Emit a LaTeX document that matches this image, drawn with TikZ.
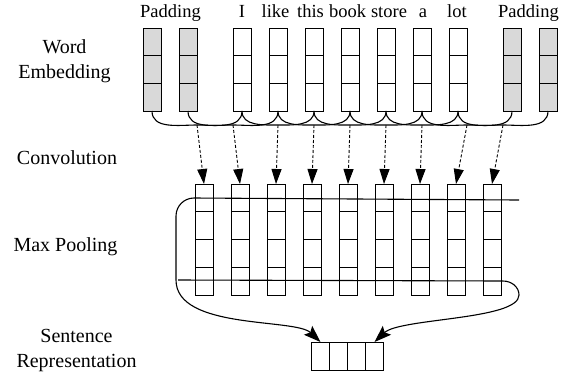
\documentclass[tikz,border=0pt]{standalone}
\usepackage{fontspec}
\setmainfont{Liberation Serif}
\usetikzlibrary{arrows.meta}
\begin{document}
\begin{tikzpicture}[x=1pt,y=-1pt,line width=1pt,
  wbox/.style={draw,minimum width=18pt,minimum height=83pt,inner sep=0pt,outer sep=0pt},
  padbox/.style={wbox,fill=black!15},
  cbox/.style={draw,minimum width=18pt,minimum height=111pt,inner sep=0pt,outer sep=0pt},
  sbox/.style={draw,minimum width=18pt,minimum height=28pt,inner sep=0pt,outer sep=0pt},
  toplab/.style={anchor=base,inner sep=0pt,font=\fontsize{18.5}{22}\selectfont},
  sidelab/.style={align=center,inner sep=0pt,font=\fontsize{20}{24.5}\selectfont},
  windowarc/.style={line width=1.1pt},
  dasharrow/.style={dash pattern=on 3pt off 2pt,line width=0.9pt,-{Triangle[length=15pt,width=10pt]}},
  poolarrow/.style={line width=1.1pt,-{Stealth[length=17pt,width=12pt,inset=3pt]}}]
\useasboundingbox (0,0) rectangle (569,376);

% word embedding columns
\foreach \i/\x/\s in {1/152/padbox,2/188/padbox,3/242/wbox,4/278/wbox,5/314/wbox,6/350/wbox,7/386/wbox,8/422/wbox,9/458/wbox,10/512/padbox,11/548/padbox}{
  \node[\s] (w\i) at (\x,69.5) {};
  \draw (\x-9,55.67) -- (\x+9,55.67) (\x-9,83.33) -- (\x+9,83.33);
}

% top labels
\node[toplab] (tpad1) at (170.5,17.3) {Padding};
\node[toplab] (tI) at (242,17.3) {I};
\node[toplab] (tlike) at (275.5,17.3) {like};
\node[toplab] (tthis) at (310.5,17.3) {this};
\node[toplab] (tbook) at (347.5,17.3) {book};
\node[toplab] (tstore) at (389,17.3) {store};
\node[toplab] (ta) at (423,17.3) {a};
\node[toplab] (tlot) at (457,17.3) {lot};
\node[toplab] (tpad2) at (528.5,17.3) {Padding};

% side labels
\node[sidelab] (lwe) at (64.5,61) {Word\\Embedding};
\node[sidelab] (lconv) at (67,158) {Convolution};
\node[sidelab] (lpool) at (65.5,247) {Max Pooling};
\node[sidelab] (lsent) at (76.5,350.5) {Sentence\\Representation};

% convolution / pooling columns
\foreach \i/\x in {1/204,2/240,3/276,4/312,5/348,6/384,7/420,8/456,9/492}{
  \node[cbox] (c\i) at (\x,239.5) {};
  \draw (\x-9,211.75) -- (\x+9,211.75) (\x-9,239.5) -- (\x+9,239.5) (\x-9,267.25) -- (\x+9,267.25);
}

% convolution windows
\foreach \i/\j/\m in {1/3/197,2/4/233,3/5/278,4/6/314,5/7/350,6/8/386,7/9/422,8/10/467,9/11/503}{
  \coordinate (m\i) at (\m,125);
  \draw[windowarc] (w\i.south) to[out=-90,in=180] (m\i) to[out=0,in=-90] (w\j.south);
  \draw[dasharrow] (m\i) -- (c\i.north);
}

% sentence representation
\foreach \i/\x in {1/320.5,2/338.5,3/356.5,4/374.5}{
  \node[sbox] (s\i) at (\x,356) {};
}

% max pooling lines
\coordinate (pa) at (519,200);
\coordinate (pb) at (178,280);
\draw[poolarrow] (pa) -- (194,198) to[out=180,in=90] (176,216) -- (176,280)
  .. controls (176,330) and (295,318) .. (s1.north);
\draw[poolarrow] (pb) -- (503,281) to[out=0,in=90] (519,295)
  .. controls (519,320) and (400,318) .. (s4.north);
\end{tikzpicture}
\end{document}
